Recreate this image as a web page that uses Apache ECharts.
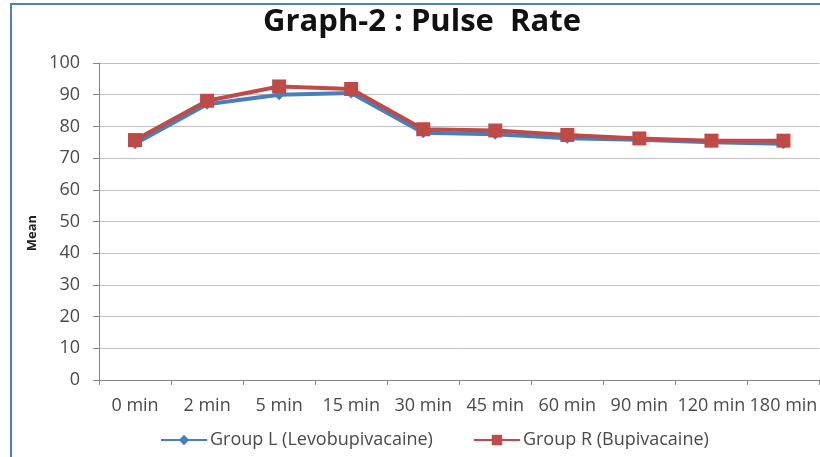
<!DOCTYPE html>
<html>
<head>
<meta charset="utf-8">
<script src="https://cdn.jsdelivr.net/npm/echarts@6/dist/echarts.min.js"></script>
<style>html,body{margin:0;padding:0;background:#fff}#c{width:820px;height:457px}</style>
</head>
<body>
<div id="c"></div>
<script>
const categories = ['0 min','2 min','5 min','15 min','30 min','45 min','60 min','90 min','120 min','180 min'];
const groupL = [74.5, 87, 90, 90.5, 78, 77.5, 76.3, 75.8, 75, 74.5];
const groupR = [75.7, 88.1, 92.6, 91.8, 79.1, 78.7, 77.3, 76.2, 75.5, 75.5];
const seriesNames = ['Group L (Levobupivacaine)', 'Group R (Bupivacaine)'];
const yAxisName = 'Mean';
const titleText = 'Graph-2 : Pulse  Rate';

const font = 'Open Sans';
const chart = echarts.init(document.getElementById('c'), null, {renderer:'canvas'});
chart.setOption({
  animation: false,
  backgroundColor: '#fff',
  title: {
    text: titleText, left: 417, textAlign: 'center', top: 2,
    textStyle: {fontFamily: font, fontSize: 31, fontWeight: 'bold', color: '#111'}
  },
  graphic: [
    {type:'rect', shape:{x:11, y:4, width:900, height:600}, style:{fill:'none', stroke:'#4f81bd', lineWidth:2}, silent:true},
    {type:'text', x:32, y:233, rotation:Math.PI/2, style:{text:yAxisName, fontFamily:font, fontSize:13, fontWeight:'bold', fill:'#222', align:'center', verticalAlign:'middle'}}
  ],
  legend: {
    top: 426, left: 155,
    itemWidth: 46, itemHeight: 13, itemGap: 40,
    textStyle: {fontFamily: font, fontSize: 18, color: '#4a4a4a', padding: [0, 0, 0, -2]},
    data: seriesNames
  },
  grid: {left: 99, right: -7, top: 63, bottom: 77, containLabel: false},
  xAxis: {
    type: 'category', data: categories, boundaryGap: true,
    axisLine: {lineStyle: {color: '#868686'}},
    axisTick: {show: true, length: 5, lineStyle: {color: '#868686'}},
    axisLabel: {fontFamily: font, fontSize: 18, color: '#4a4a4a', margin: 17, interval: 0}
  },
  yAxis: {
    type: 'value', min: 0, max: 100, interval: 10,
    axisLine: {show: true, lineStyle: {color: '#868686'}},
    axisTick: {show: true, length: 6, lineStyle: {color: '#868686'}},
    axisLabel: {fontFamily: font, fontSize: 18, color: '#4a4a4a', margin: 19},
    splitLine: {lineStyle: {color: '#bfbfbf'}}
  },
  series: [
    {name: seriesNames[0], type: 'line', data: groupL, symbol: 'diamond', symbolSize: 11,
     lineStyle: {color: '#4a7ebb', width: 4}, itemStyle: {color: '#4a7ebb'}},
    {name: seriesNames[1], type: 'line', data: groupR, symbol: 'rect', symbolSize: 14,
     lineStyle: {color: '#be4b48', width: 4}, itemStyle: {color: '#be4b48'}}
  ]
});
</script>
</body>
</html>
